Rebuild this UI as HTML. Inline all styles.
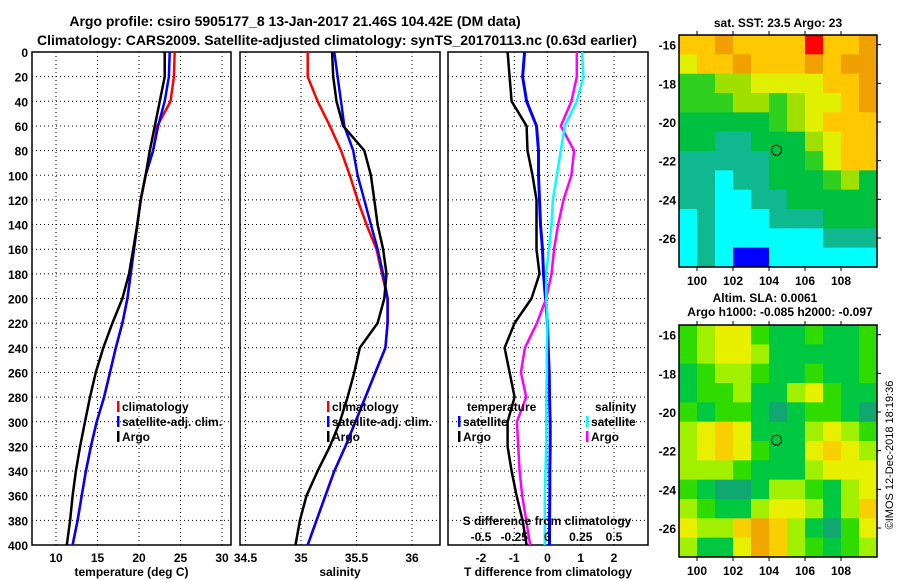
<!DOCTYPE html>
<html><head><meta charset="utf-8"><style>
html,body{margin:0;padding:0;background:#fff;}
svg{display:block;font-family:"Liberation Sans",Arial,sans-serif;font-weight:bold;}
</style></head><body>
<svg id="c" width="900" height="580" viewBox="0 0 900 580">
<text x="295" y="26" font-size="14" text-anchor="middle">Argo profile: csiro 5905177_8 13-Jan-2017 21.46S 104.42E (DM data)</text>
<text x="337" y="45" font-size="14" text-anchor="middle">Climatology: CARS2009. Satellite-adjusted climatology: synTS_20170113.nc (0.63d earlier)</text>
<text x="778" y="27" font-size="12" text-anchor="middle">sat. SST: 23.5 Argo: 23</text>
<text x="765" y="302" font-size="12" text-anchor="middle">Altim. SLA: 0.0061</text>
<text x="780" y="316" font-size="12" text-anchor="middle">Argo h1000: -0.085 h2000: -0.097</text>
<text transform="translate(893,455) rotate(-90)" font-size="11" font-weight="normal" text-anchor="middle">©IMOS 12-Dec-2018 18:19:36</text>
<g id="g"></g>
</svg>
<script>
const depths=[0,20,40,60,80,100,120,140,160,180,200,220,240,260,280,300,320,340,360,380,400];
const tempClim=[24.3,24.2,23.8,22.2,21.7,20.8,20.2,19.8,19.4,19.0,18.6,18.0,17.2,16.5,15.8,14.9,14.2,13.6,13.1,12.6,12.0];
const tempSat=[23.7,23.6,23.1,22.3,21.7,20.8,20.2,19.8,19.4,19.0,18.6,18.0,17.2,16.5,15.8,14.9,14.2,13.6,13.1,12.6,12.0];
const tempArgo=[23.1,23.1,22.5,21.9,21.3,20.8,20.2,19.8,19.3,18.8,18.0,16.8,15.7,14.8,14.1,13.5,12.9,12.4,12.0,11.7,11.3];
const salClim=[35.06,35.06,35.15,35.26,35.36,35.44,35.51,35.59,35.68,35.73,35.78,35.78,35.76,35.67,35.58,35.49,35.40,35.30,35.22,35.14,35.06];
const salSat=[35.30,35.33,35.36,35.39,35.47,35.51,35.57,35.63,35.69,35.74,35.78,35.78,35.76,35.67,35.58,35.49,35.40,35.30,35.22,35.14,35.06];
const salArgo=[35.28,35.29,35.32,35.38,35.57,35.63,35.66,35.69,35.74,35.77,35.75,35.69,35.53,35.48,35.42,35.35,35.26,35.15,35.05,34.99,34.95];
const dTSat=[-0.69,-0.75,-0.63,-0.33,-0.27,-0.27,-0.24,-0.21,-0.15,-0.12,-0.06,0,0.02,0.05,0.06,0.08,0.08,0.07,0.07,0.06,0.06];
const dTArgo=[-1.2,-1.14,-1.08,-0.63,-0.6,-0.45,-0.33,-0.33,-0.33,-0.24,-0.48,-0.99,-1.29,-1.14,-0.99,-1.2,-1.2,-1.08,-0.93,-0.75,-0.63];
const dSSat=[0.26,0.27,0.22,0.13,0.1,0.07,0.04,0.03,0.01,-0.01,-0.01,0,-0.005,-0.005,-0.01,-0.01,-0.01,-0.015,-0.02,-0.02,-0.02];
const dSArgo=[0.22,0.22,0.18,0.1,0.2,0.18,0.12,0.08,0.05,0.03,-0.01,-0.08,-0.17,-0.2,-0.16,-0.23,-0.22,-0.21,-0.19,-0.16,-0.13];
const depthTicks=[0,20,40,60,80,100,120,140,160,180,200,220,240,260,280,300,320,340,360,380,400];
const tempTicks=[10,15,20,25,30];
const salTicks=[34.5,35,35.5,36];
const dTTicks=[-2,-1,0,1,2];
const dSTicks=[-0.5,-0.25,0,0.25,0.5];
const dSTickLabels=["-0.5","-0.25","0","0.25","0.5"];
const sstGrid=[
[7,7,8,7,7,7,7,9,7,7,8],
[6,7,7,8,7,7,7,8,7,8,8],
[4,4,5,5,6,6,6,6,7,7,8],
[4,4,4,5,5,4,5,6,6,7,8],
[3,3,3,3,3,4,5,6,7,7,7],
[3,3,2,2,3,3,3,5,6,7,7],
[2,2,2,2,2,3,3,4,6,7,7],
[2,2,1,2,2,3,3,3,4,5,3],
[2,2,1,1,2,2,3,3,3,3,3],
[1,2,1,1,1,2,2,2,3,3,3],
[1,2,1,1,1,1,1,1,2,2,2],
[1,2,1,0,0,1,1,1,1,1,1]];
const slaGrid=[
[2,3,4,4,2,1,1,2,1,1,2],
[2,3,4,4,3,1,1,1,1,1,2],
[1,2,3,3,2,1,1,2,1,1,2],
[1,2,2,3,1,1,3,4,2,1,1],
[2,1,2,2,1,0,1,2,2,1,0],
[3,4,5,4,1,1,1,3,4,3,2],
[3,4,5,4,2,1,1,4,5,4,3],
[3,3,3,2,1,1,1,3,4,4,4],
[2,1,0,0,1,3,3,2,1,3,4],
[3,2,1,1,3,4,4,3,1,3,5],
[4,3,3,5,6,5,3,1,0,2,4],
[3,1,1,4,6,5,3,2,1,2,3]];
const lonTicks=[100,102,104,106,108];
const latTicks=[-16,-18,-20,-22,-24,-26];
const argoLon=[104.42], argoLat=[-21.46];

const NS="http://www.w3.org/2000/svg";
const G=document.getElementById('g');
function mk(tag,at,parent){const e=document.createElementNS(NS,tag);for(const k in at)e.setAttribute(k,at[k]);(parent||G).appendChild(e);return e;}
function txt(x,y,s,anchor,size){const t=mk('text',{x:x,y:y,'font-size':size||12,'text-anchor':anchor||'middle'});t.textContent=s;return t;}
const Y0=52,Y1=545;
const yD=d=>Y0+(d-0)*(Y1-Y0)/400;
function lin(d0,d1,r0,r1){return v=>r0+(v-d0)*(r1-r0)/(d1-d0);}
const panels=[
 {name:'temperature',x0:32,x1:231,sx:lin(10,30,56,222),ticks:tempTicks,labels:tempTicks.map(String),title:'temperature (deg C)',ylab:true},
 {name:'salinity',x0:240,x1:440,sx:lin(35,36,301,412),ticks:salTicks,labels:salTicks.map(String),title:'salinity'},
 {name:'difference',x0:448,x1:648,sx:lin(-2,2,481,614),ticks:dTTicks,labels:dTTicks.map(String),title:'T difference from climatology'}
];
panels.forEach(p=>{
 const pg=mk('g',{});
 
 
 depthTicks.forEach(d=>{if(d>0&&d<400){const l=mk('line',{x1:p.x0,x2:p.x1,y1:yD(d),y2:yD(d),stroke:'#000','stroke-width':1,'stroke-dasharray':'1,3'},pg);
   }});
 p.ticks.forEach((t,i)=>{const x=p.sx(t);if(x>p.x0+2&&x<p.x1-2){const l=mk('line',{x1:x,x2:x,y1:Y0,y2:Y1,stroke:'#000','stroke-width':1,'stroke-dasharray':'1,3'},pg);
   }
   const tl=txt(x,562,p.labels[i],'middle',12);});
 const r=mk('rect',{x:p.x0,y:Y0,width:p.x1-p.x0,height:Y1-Y0,fill:'none',stroke:'#000','stroke-width':1.5},pg);
 
 const at=txt((p.x0+p.x1)/2,576,p.title,'middle',12);
 
 if(p.ylab){depthTicks.forEach(d=>{const t=txt(28,yD(d)+5,String(d),'end',12);});}
});
function line(vals,sx,color,name,w){
 const pts=vals.map((v,i)=>sx(v).toFixed(1)+','+yD(depths[i]).toFixed(1)).join(' ');
 const l=mk('polyline',{points:pts,fill:'none',stroke:color,'stroke-width':w||2.5,'stroke-linejoin':'round'});
 
 
}
const P=panels;
line(tempClim,P[0].sx,'#f00','temp-climatology-line');
line(tempSat,P[0].sx,'#00f','temp-satellite-line');
line(tempArgo,P[0].sx,'#000','temp-argo-line');
line(salClim,P[1].sx,'#f00','sal-climatology-line');
line(salSat,P[1].sx,'#00f','sal-satellite-line');
line(salArgo,P[1].sx,'#000','sal-argo-line');
const sxS=lin(-0.5,0.5,481,614);
line(dTArgo,P[2].sx,'#000','tdiff-argo-line');
line(dTSat,P[2].sx,'#00f','tdiff-satellite-line',3);
line(dSArgo,sxS,'#f0f','sdiff-argo-line');
line(dSSat,sxS,'#0ff','sdiff-satellite-line');
const sdt=txt(547,525,'S difference from climatology','middle',12);

dSTicks.forEach((t,i)=>{const tl=txt(sxS(t),541,dSTickLabels[i],'middle',12);
 });
function legItem(bx,y,color,label,name){
 const g=mk('g',{});
 
 
 if(color) mk('rect',{x:bx,y:y-10,width:2.5,height:11,fill:color},g);
 const t=mk('text',{x:bx+5,y:y,'font-size':12},g);t.textContent=label;
}
legItem(117,411,'#f00','climatology','legend-entry-climatology');
legItem(117,426,'#00f','satellite-adj. clim.','legend-entry-satellite');
legItem(117,441,'#000','Argo','legend-entry-argo');
legItem(327,411,'#f00','climatology','legend-entry-climatology');
legItem(327,426,'#00f','satellite-adj. clim.','legend-entry-satellite');
legItem(327,441,'#000','Argo','legend-entry-argo');
legItem(462,411,null,'temperature','legend-heading-temperature');
legItem(458,426,'#00f','satellite','legend-entry-t-satellite');
legItem(458,441,'#000','Argo','legend-entry-t-argo');
legItem(590,411,null,'salinity','legend-heading-salinity');
legItem(586,426,'#0ff','satellite','legend-entry-s-satellite');
legItem(586,441,'#f0f','Argo','legend-entry-s-argo');
const sstPal=['#0000ff','#00ffff','#10b890','#00c040','#30d020','#a0e000','#e0f000','#ffc800','#f0a000','#ff0000'];
const slaPal=['#10a870','#00c840','#30dc00','#a0f000','#e8f000','#f8d000','#f0a800'];
function drawMap(top,bot,grid,pal,name,xlabY){
 const x0=679,x1=877;
 const mx=lin(99,110,x0,x1), my=lin(-15.5,-27.5,top,bot);
 const mg=mk('g',{});
 
 
 grid.forEach((row,r)=>row.forEach((v,c)=>{
  const cx=mx(99+c),cy=my(-15.5-r);
  const cell=mk('rect',{x:cx,y:cy,width:mx(100+c)-cx+0.5,height:my(-16.5-r)-cy+0.5,fill:pal[v]},mg);
  
  
 }));
 mk('rect',{x:x0,y:top,width:x1-x0,height:bot-top,fill:'none',stroke:'#000','stroke-width':1.5},mg);
 lonTicks.forEach(l=>{const x=mx(l);mk('line',{x1:x,x2:x,y1:top-4,y2:top,stroke:'#000'},mg);mk('line',{x1:x,x2:x,y1:bot,y2:bot+4,stroke:'#000'},mg);
  const t=txt(x,xlabY,String(l),'middle',12);});
 latTicks.forEach(l=>{const y=my(l);mk('line',{x1:x1,x2:x1+4,y1:y,y2:y,stroke:'#000'},mg);
  const t=txt(x0-3,y+5,String(l),'end',12);});
 const m=mk('circle',{cx:mx(argoLon[0]),cy:my(argoLat[0]),r:5,fill:'none',stroke:'#000','stroke-width':1},mg);
 
 
}
drawMap(35,267,sstGrid,sstPal,'sst-map',285);
drawMap(325,557,slaGrid,slaPal,'sla-map',575);
</script>
</body></html>
